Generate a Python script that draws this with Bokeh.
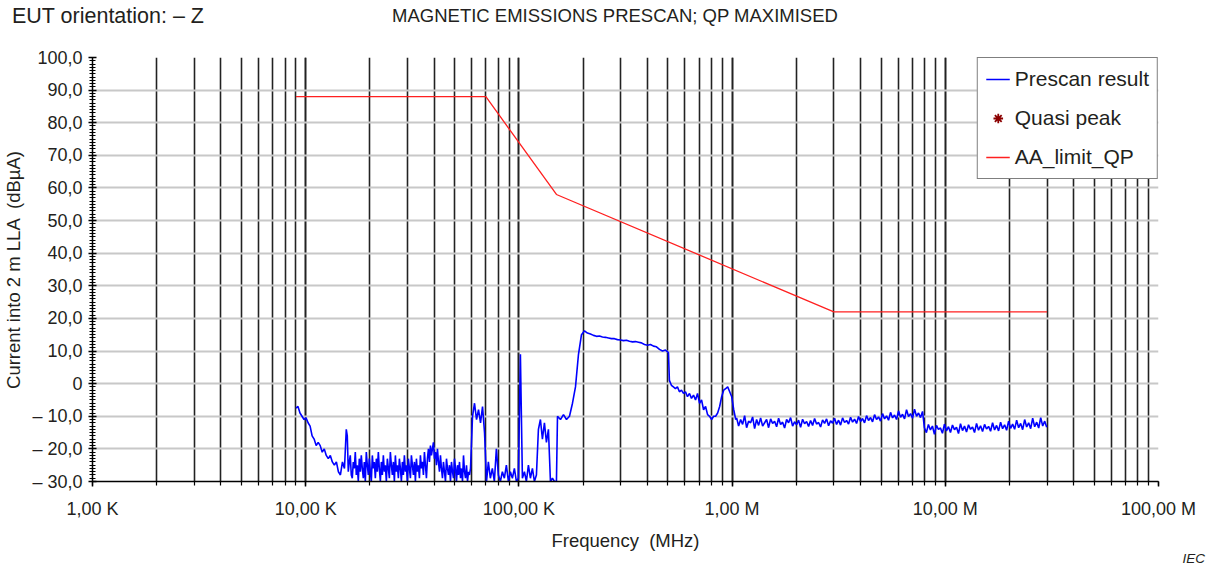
import numpy as np
from bokeh.plotting import figure
from bokeh.layouts import column
from bokeh.models import (Div, Legend, LegendItem, LogTicker, SingleIntervalTicker,
                          CustomJSTickFormatter)
from bokeh.embed import file_html
from bokeh.resources import INLINE

# ---------------- data ----------------
x_tick_values = [1e3, 1e4, 1e5, 1e6, 1e7, 1e8]
x_tick_labels = ["1,00 K", "10,00 K", "100,00 K", "1,00 M", "10,00 M", "100,00 M"]
y_tick_values = [-30, -20, -10, 0, 10, 20, 30, 40, 50, 60, 70, 80, 90, 100]
y_tick_labels = ["\u2013 30,0", "\u2013 20,0", "\u2013 10,0", "0", "10,0", "20,0", "30,0",
                 "40,0", "50,0", "60,0", "70,0", "80,0", "90,0", "100,0"]

limit_freq_hz = [9e3, 70e3, 150e3, 3e6, 30e6]
limit_dbua = [88, 88, 58, 22, 22]

quasi_peak_freq_hz = []
quasi_peak_dbua = []

prescan_bands_hz = [(9.0e3, 15.2e3), (15.5e3, 59.3e3), (60.6e3, 70.5e3),
                    (71.9e3, 150e3), (151.7e3, 503e3),
                    (508e3, 1.04e6), (1.05e6, 7.82e6), (7.98e6, 29.9e6)]
prescan_band1_dbua = [
    -7.5, -7, -9, -10, -11, -10.5, -12, -13, -16, -17,
    -19, -18, -19, -21, -20, -22, -23, -22, -24, -25,
    -24, -27, -28, -24, -26]
prescan_band2_dbua = [
    -14, -16, -27, -24, -22, -28, -29, -24, -26, -21,
    -28, -25, -30, -23, -27, -22, -26, -29, -24, -30,
    -21, -25, -28, -23, -27, -30, -22, -26, -24, -29,
    -23, -27, -21, -26, -30, -24, -28, -22, -27, -25,
    -30, -23, -26, -29, -21, -25, -28, -24, -30, -22,
    -27, -25, -29, -23, -26, -30, -24, -28, -22, -27,
    -25, -30, -23, -26, -29, -22, -25, -28, -24, -30,
    -23, -27, -25, -29, -22, -26, -24, -28, -21, -25,
    -29, -23, -20, -24, -19, -22, -20, -18, -23, -21,
    -25, -20, -24, -27, -22, -26, -29, -24, -27, -30,
    -23, -26, -28, -25, -30, -24, -27, -29, -23, -26,
    -30, -25, -28, -24, -29, -26, -30, -22, -27, -29,
    -25, -30, -27, -28, -26]
prescan_band3_dbua = [-10, -6, -11, -8, -12, -7, -15, -30]
prescan_band4_dbua = [
    -24, -29, -26, -30, -20, -28, -30, -27, -29, -25,
    -30, -27, -29, -26, -30, -29, 9, -29, -27, -30,
    -25, -29, -26, -30, -28, -14, -11, -17, -12, -18,
    -14, -30, -29, -30, -30]
prescan_band5_dbua = [
    -10, -11, -9.5, -11, -10, -6, -1, 9, 15, 16.2,
    15.5, 15.2, 14.8, 14.5, 14.6, 14.3, 14.2, 14.0, 13.8, 13.8,
    13.5, 13.4, 13.2, 13.3, 13.0, 12.8, 12.9, 12.7, 12.5, 12.0,
    11.8, 12.0, 11.5, 11.3, 10.5, 10.0, 10.3, 9.5]
prescan_band6_dbua = [
    1, -0.5, -1, -1.5, -1, -2.5, -2, -3, -2.5, -4,
    -3, -4.5, -3.5, -5, -3, -6, -5, -8, -7, -9.5,
    -10, -11, -10, -10, -9, -7, -4, -2, -1.5, -1,
    -2.5, -4, -8, -11]
prescan_band7_dbua = [
    -10.5, -13, -11, -12.5, -9.8, -13.5, -11.5, -12, -10.2, -13.8,
    -11, -12.8, -10.5, -13, -12, -11, -13.5, -10.8, -12.2, -11.5,
    -13.2, -10.6, -12.5, -11.8, -13.6, -11, -12, -10.4, -13, -11.7,
    -12.6, -11.2, -13.4, -10.9, -12.3, -11.6, -13.1, -11.3, -12.8, -10.7,
    -12.4, -11.9, -13.3, -11.1, -12.2, -10.8, -12.9, -11.4, -12.1, -10.6,
    -12.5, -11.2, -12.7, -10.5, -11.9, -11.3, -12.4, -10.3, -11.8, -10.9,
    -12.2, -10.1, -11.6, -10.7, -12, -9.8, -11.3, -10.4, -11.7, -9.5,
    -11, -10.2, -11.5, -9.2, -10.8, -9.9, -11.2, -8.8, -10.5, -9.6,
    -11, -8.4, -10.3, -9.4, -10.8, -8, -10.1, -9.2, -10.6, -7.8,
    -10, -9, -10.4, -8.5]
prescan_band8_dbua = [
    -13.5, -15, -12.5, -14.2, -13, -15.5, -12.8, -14, -13.6, -15.2,
    -12.4, -14.5, -13.2, -15, -12.7, -14.1, -13.4, -15.3, -12.3, -14.4,
    -13, -14.8, -12.6, -14, -13.3, -15, -12.2, -14.3, -12.9, -14.7,
    -12.5, -13.9, -13.1, -14.6, -12, -14.2, -12.8, -14.5, -11.8, -13.8,
    -12.6, -14.3, -11.5, -13.7, -12.4, -14, -11.2, -13.5, -12.2, -14.1,
    -11, -13.3, -12, -13.8, -10.6, -13.2, -11.8, -13.6, -10.4, -13,
    -11.5, -13.4]

bands_db = [prescan_band1_dbua, prescan_band2_dbua, prescan_band3_dbua, prescan_band4_dbua,
            prescan_band5_dbua, prescan_band6_dbua, prescan_band7_dbua, prescan_band8_dbua]
prescan_freq_hz = np.concatenate([np.geomspace(a, b, len(v)) for (a, b), v in zip(prescan_bands_hz, bands_db)])
prescan_dbua = np.concatenate([np.array(v, dtype=float) for v in bands_db])

# ---------------- layout constants ----------------
W, H = 1210, 567
HEAD_H, FOOT_H = 40, 14
FIG_H = H - HEAD_H - FOOT_H
BL, BR = 92, 52
BT = 57 - HEAD_H
BB = FIG_H - BT - (481 - 57)
TXT = "#231f20"
FONT = "Liberation Sans"

header = Div(width=W, height=HEAD_H, margin=0, text=(
    f'<div style="position:relative;width:{W}px;height:{HEAD_H}px;font-family:\'{FONT}\';color:{TXT};">'
    '<span style="position:absolute;left:12px;top:4px;font-size:21.5px;white-space:nowrap;line-height:normal;">'
    'EUT orientation: \u2013 Z</span>'
    '<span style="position:absolute;left:315px;width:600px;text-align:center;top:5px;font-size:18.5px;'
    'white-space:nowrap;line-height:normal;">MAGNETIC EMISSIONS PRESCAN; QP MAXIMISED</span>'
    '</div>'))
footer = Div(width=W, height=FOOT_H, margin=0, text=(
    f'<div style="position:relative;width:{W}px;height:{FOOT_H}px;font-family:\'{FONT}\';color:{TXT};">'
    '<span style="position:absolute;right:5px;top:-1px;font-size:13.5px;font-style:italic;'
    'white-space:nowrap;line-height:13px;">IEC</span></div>'))

p = figure(width=W, height=FIG_H, x_axis_type="log", x_range=(1e3, 1e8), y_range=(-30, 100),
           output_backend="svg", toolbar_location=None, margin=0,
           min_border_left=BL, min_border_right=BR, min_border_top=BT, min_border_bottom=BB)
p.outline_line_color = None
p.background_fill_color = "white"
p.border_fill_color = "white"

# axes
p.xaxis.ticker = LogTicker(num_minor_ticks=10)
p.yaxis.ticker = SingleIntervalTicker(interval=10, num_minor_ticks=10)
p.xaxis.formatter = CustomJSTickFormatter(args=dict(vals=x_tick_values, labs=x_tick_labels), code="""
    for (let i = 0; i < vals.length; i++) {
        if (Math.abs(Math.log10(tick) - Math.log10(vals[i])) < 1e-6) return labs[i];
    }
    return "";
""")
p.yaxis.formatter = CustomJSTickFormatter(args=dict(vals=y_tick_values, labs=y_tick_labels), code="""
    for (let i = 0; i < vals.length; i++) {
        if (Math.abs(tick - vals[i]) < 1e-6) return labs[i];
    }
    return "";
""")
for ax in (p.xaxis, p.yaxis):
    ax.axis_line_color = "black"
    ax.axis_line_width = 1.5
    ax.major_tick_line_color = "black"
    ax.minor_tick_line_color = "black"
    ax.major_tick_line_width = 1.5
    ax.minor_tick_line_width = 1.2
    ax.major_label_text_font = FONT
    ax.major_label_text_font_size = "18px"
    ax.major_label_text_color = TXT
    ax.axis_label_text_font = FONT
    ax.axis_label_text_font_size = "18.5px"
    ax.axis_label_text_font_style = "normal"
    ax.axis_label_text_color = TXT

p.xaxis.major_tick_in = 0
p.xaxis.major_tick_out = 5
p.xaxis.minor_tick_in = 0
p.xaxis.minor_tick_out = 4
p.xaxis.major_label_standoff = 12
p.xaxis.axis_label = "Frequency \u00a0(MHz)"
p.xaxis.axis_label_standoff = 8

p.yaxis.major_tick_in = 4
p.yaxis.major_tick_out = 4
p.yaxis.minor_tick_in = 3
p.yaxis.minor_tick_out = 3
p.yaxis.major_label_standoff = 6
p.yaxis.axis_label = "Current into 2 m LLA \u00a0(dB\u00b5A)"
p.yaxis.axis_label_standoff = 5

# grids
p.xgrid.grid_line_color = "#222222"
p.xgrid.grid_line_width = 1.6
p.xgrid.minor_grid_line_color = "#222222"
p.xgrid.minor_grid_line_width = 1.6
p.ygrid.grid_line_color = "#c8c8c8"
p.ygrid.grid_line_width = 2
p.ygrid.level = "underlay"
p.xgrid.level = "underlay"

# series
r_scan = p.line(prescan_freq_hz, prescan_dbua, line_color="#0000ff", line_width=1.6)
r_qp = p.scatter(quasi_peak_freq_hz, quasi_peak_dbua, marker="asterisk", size=13,
                 line_color="#8b0000", line_width=1.6)
# legend swatch for the (empty) quasi-peak series
qp_swatch = p.scatter(np.array([np.nan]), np.array([np.nan]), marker="asterisk", size=13,
                      line_color="#8b0000", line_width=1.8)
r_lim = p.line(limit_freq_hz, limit_dbua, line_color="#ff2020", line_width=1.3)

legend = Legend(items=[LegendItem(label="Prescan result", renderers=[r_scan]),
                       LegendItem(label="Quasi peak", renderers=[qp_swatch]),
                       LegendItem(label="AA_limit_QP", renderers=[r_lim])],
                location="top_right", margin=0, padding=8, spacing=13,
                glyph_width=24, glyph_height=26, label_standoff=5,
                label_text_font=FONT, label_text_font_size="21px", label_text_color=TXT,
                border_line_color="black", border_line_width=1.2,
                background_fill_color="white", background_fill_alpha=1.0)
p.add_layout(legend)

layout = column(header, p, footer, spacing=0, margin=0)
open("out.html", "w").write(file_html(layout, INLINE))
